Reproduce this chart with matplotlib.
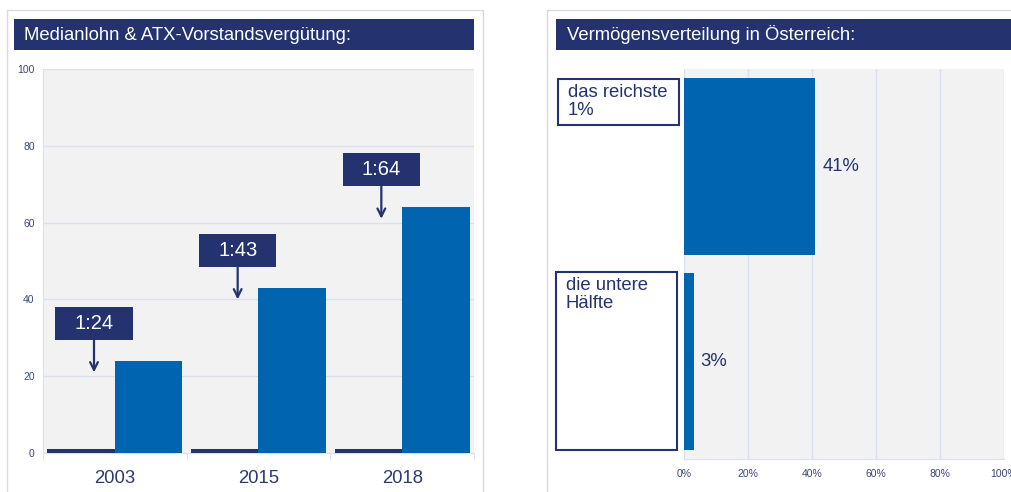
import matplotlib.pyplot as plt
from matplotlib.patches import Rectangle
from matplotlib.transforms import blended_transform_factory

plt.rcParams['font.family'] = ['Liberation Sans', 'DejaVu Sans']

# data
years = ['2003', '2015', '2018']
median_wage = [1, 1, 1]
atx_pay = [24, 43, 64]
ratio_labels = ['1:24', '1:43', '1:64']

groups = ['das reichste\n1%', 'die untere\nHälfte']
wealth_share = [0.41, 0.03]
xticks_right = [0, 0.2, 0.4, 0.6, 0.8, 1.0]

navy = '#24336F'
blue = '#0064B0'
bg = '#F2F2F2'
gridc = '#D9E0F0'
tickc = '#3B4676'

W, H = 1011, 492
fig = plt.figure(figsize=(W / 100, H / 100), dpi=100)


def figrect(x0, y0, x1, y1, **kw):
    r = Rectangle((x0 / W, 1 - y1 / H), (x1 - x0) / W, (y1 - y0) / H,
                  transform=fig.transFigure, **kw)
    fig.add_artist(r)


# outer frames (behind axes) and title bars
figrect(7, 10, 483, 520, fc='none', ec='#DADADA', lw=1, zorder=-10)
figrect(547, 10, 1030, 520, fc='none', ec='#DADADA', lw=1, zorder=-10)
figrect(14, 19, 474, 50, fc=navy, ec='none')
figrect(556, 19, 1030, 50, fc=navy, ec='none')
fig.text(24 / W, 1 - 35 / H, 'Medianlohn & ATX-Vorstandsvergütung:', color='white',
         fontsize=13.3, va='center', ha='left')
fig.text(567 / W, 1 - 35 / H, 'Vermögensverteilung in Österreich:', color='white',
         fontsize=13.3, va='center', ha='left')

# ---- left chart
ax = fig.add_axes([43 / W, 1 - 453 / H, (474 - 43) / W, (453 - 69) / H])
ax.set_facecolor(bg)
x = range(len(years))
bw = 0.47
ax.bar([i - bw / 2 for i in x], median_wage, width=bw, color=navy, zorder=3)
ax.bar([i + bw / 2 for i in x], atx_pay, width=bw, color=blue, zorder=3)
ax.set_xlim(-0.5, 2.5)
ax.set_ylim(0, 100)
ax.set_yticks(range(0, 101, 20))
ax.set_xticks(list(x))
ax.set_xticklabels(years, fontsize=13.3, color='#2E3A6E')
ax.set_xticks([-0.5, 0.5, 1.5, 2.5], minor=True)
ax.tick_params(axis='x', which='major', length=0, pad=12)
ax.tick_params(axis='x', which='minor', length=5, color=gridc)
ax.tick_params(axis='y', length=0, labelsize=7.5, labelcolor=tickc, pad=6)
ax.yaxis.grid(True, color=gridc, lw=1)
for s in ['top', 'right']:
    ax.spines[s].set_visible(False)
for s in ['left', 'bottom']:
    ax.spines[s].set_color(gridc)

for i, (v, lab) in enumerate(zip(atx_pay, ratio_labels)):
    ax_x = i - 0.145
    ax.add_patch(Rectangle((ax_x - 0.27, v + 5.5), 0.54, 8.6, fc=navy, ec='none',
                           zorder=4))
    ax.text(ax_x, v + 9.8, lab, color='white', fontsize=14.5, ha='center',
            va='center', zorder=5)
    ax.annotate('', xy=(ax_x, v - 3), xytext=(ax_x, v + 5.5),
                arrowprops=dict(arrowstyle='->', color=navy, lw=1.6,
                                shrinkA=0, shrinkB=0, mutation_scale=14), zorder=5)

# ---- right chart
ax2 = fig.add_axes([684 / W, 1 - 459 / H, 320 / W, 390 / H])
ax2.set_facecolor(bg)
pos = range(len(groups))
ax2.barh(list(pos), wealth_share, height=0.91, color=blue, zorder=3)
ax2.set_xlim(0, 1)
ax2.set_ylim(1.5, -0.5)
ax2.set_yticks([])
ax2.set_xticks(xticks_right)
ax2.set_xticklabels([f'{int(round(t * 100))}%' for t in xticks_right])
ax2.tick_params(axis='x', length=0, labelsize=7.5, labelcolor=tickc, pad=7.5)
ax2.xaxis.grid(True, color=gridc, lw=1)
for s in ['top', 'right']:
    ax2.spines[s].set_visible(False)
for s in ['left', 'bottom']:
    ax2.spines[s].set_color(gridc)

for i, v in zip(pos, wealth_share):
    ax2.text(v + 0.022, i, f'{int(round(v * 100))}%', color=navy, fontsize=13.3,
             va='center', ha='left', zorder=5)

# category label boxes
tr = blended_transform_factory(ax2.transAxes, ax2.transData)
box_spans = [(-0.449, -0.213), (0.541, 1.454)]
box_x = [(-0.394, -0.016), (-0.40, -0.022)]
for lab, (y0, y1), (x0, x1) in zip(groups, box_spans, box_x):
    ax2.add_patch(Rectangle((x0, y0), x1 - x0, y1 - y0, transform=tr, fc='white',
                            ec=navy, lw=1.5, clip_on=False, zorder=5))
    ax2.text(x0 + 0.03, y0 + 0.025, lab, transform=tr, color=navy, fontsize=13.3,
             ha='left', va='top', linespacing=1.1, clip_on=False, zorder=6)

fig.savefig('out.png', dpi=100)
